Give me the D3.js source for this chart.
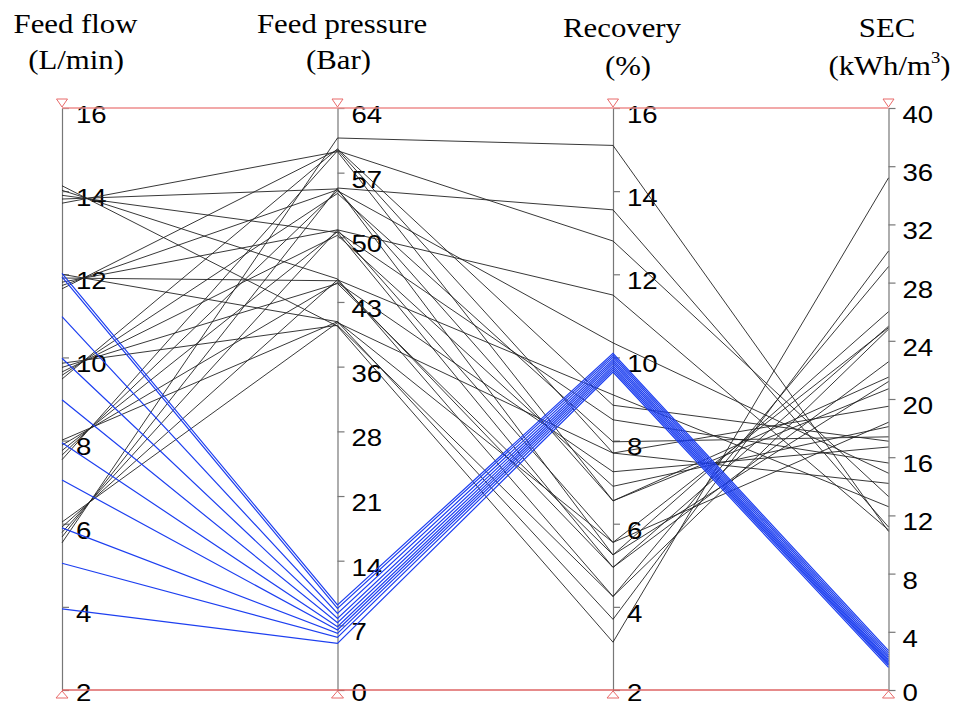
<!DOCTYPE html>
<html>
<head>
<meta charset="utf-8">
<script src="https://cdn.jsdelivr.net/npm/d3@7"></script>
<style>
  body { margin: 0; background: #fff; }
  svg { display: block; background: #fff; }
  .title { font-family: "Liberation Serif", "Times New Roman", serif; font-size: 28px; fill: #000; }
  .axis text { font-family: "Liberation Sans", Arial, sans-serif; font-size: 24px; fill: #000; }
  .axis path, .axis line { stroke: #777; stroke-width: 1.2; }
</style>
</head>
<body>
<svg id="chart" width="958" height="707"></svg>
<script>
// axes of the parallel coordinates plot
const dims = ["flow", "pressure", "recovery", "sec"];
const titleTop = ["Feed flow", "Feed pressure", "Recovery", "SEC"];
const titleUnit = ["(L/min)", "(Bar)", "(%)", "(kWh/m"];

const flowDomain = [2, 16];
const pressureDomain = [0, 64];
const recoveryDomain = [2, 16];
const secDomain = [0, 40];

const flowTicks = [2, 4, 6, 8, 10, 12, 14, 16];
const pressureTicks = [0, 7.11, 14.22, 21.33, 28.44, 35.56, 42.67, 49.78, 56.89, 64];
const pressureTickLabels = ["0", "7", "14", "21", "28", "36", "43", "50", "57", "64"];
const recoveryTicks = [2, 4, 6, 8, 10, 12, 14, 16];
const secTicks = [0, 4, 8, 12, 16, 20, 24, 28, 32, 36, 40];

// black runs (5 flows x 5 pressures)
const blackFlow = [5.54, 5.68, 5.79, 5.92, 6.04,
                   7.54, 7.65, 7.76, 7.89, 8.01,
                   9.48, 9.57, 9.65, 9.76, 9.86,
                   11.65, 11.73, 11.81, 11.91, 12.0,
                   13.71, 13.81, 13.90, 14.02, 14.13];
const blackPressure = [60.7, 55.2, 50.6, 45.1, 40.4,
                       59.3, 54.9, 50.4, 44.8, 40.5,
                       59.5, 54.6, 50.0, 44.7, 40.1,
                       59.4, 55.0, 50.6, 45.0, 40.5,
                       59.2, 55.1, 50.3, 45.2, 40.0];
const blackRecovery = [15.1, 13.55, 11.5, 9.1, 7.7,
                       12.8, 10.35, 8.5, 7.25, 5.55,
                       8.85, 7.97, 6.9, 5.25, 4.25,
                       7.7, 6.55, 5.55, 4.95, 3.7,
                       6.55, 5.25, 4.95, 4.25, 3.15];
const blackSEC = [10.9, 11.2, 11.0, 12.6, 14.2,
                  13.3, 14.9, 15.6, 16.7, 18.4,
                  17.1, 17.4, 18.1, 21.2, 24.8,
                  19.5, 20.7, 24.9, 22.56, 30.17,
                  21.5, 26.0, 25.0, 29.1, 35.2];

// blue runs (low pressure group)
const blueFlow = [12.02, 11.94, 10.98, 9.98, 8.98, 7.95, 7.05, 5.9, 5.05, 3.95];
const bluePressure = [9.35, 8.98, 8.43, 7.88, 7.40, 6.96, 6.60, 6.23, 5.79, 5.13];
const blueRecovery = [10.1, 10.05, 10.0, 9.95, 9.9, 9.85, 9.8, 9.75, 9.7, 9.65];
const blueSEC = [2.7, 2.55, 2.4, 2.25, 2.1, 2.0, 1.9, 1.8, 1.7, 1.55];

const svg = d3.select("#chart");
const yTop = 108, yBottom = 690;

const x = d3.scalePoint().domain(dims).range([62, 888.5]);
const y = {
    flow: d3.scaleLinear().domain(flowDomain).range([yBottom, yTop]),
    pressure: d3.scaleLinear().domain(pressureDomain).range([yBottom, yTop]),
    recovery: d3.scaleLinear().domain(recoveryDomain).range([yBottom, yTop]),
    sec: d3.scaleLinear().domain(secDomain).range([yBottom, yTop])
};
const tickSets = {flow: flowTicks, pressure: pressureTicks, recovery: recoveryTicks, sec: secTicks};

function makeRows(f, p, r, s) {
    return f.map((v, i) => ({flow: v, pressure: p[i], recovery: r[i], sec: s[i]}));
}
const blackRows = makeRows(blackFlow, blackPressure, blackRecovery, blackSEC);
const blueRows = makeRows(blueFlow, bluePressure, blueRecovery, blueSEC);

// axes
dims.forEach(d => {
    const ax = d3.axisRight(y[d])
        .tickValues(tickSets[d])
        .tickSize(7)
        .tickSizeOuter(0)
        .tickFormat((v, i) => d === "pressure" ? pressureTickLabels[i] : String(v));
    const g = svg.append("g")
        .attr("class", "axis")
        .attr("transform", "translate(" + x(d) + ",0)")
        .call(ax);
    // labels sit a little below their tick, the lowest one less so
    g.selectAll("text")
        .attr("x", 12.2)
        .attr("y", (v, i) => i === 0 ? 2.5 : 6)
        .attr("dy", "0.35em")
        .attr("transform", "scale(1.15,1)");
});

// lines
const line = d3.line();
function pts(r) { return dims.map(d => [x(d), y[d](r[d])]); }

svg.append("g").selectAll("path")
    .data(blackRows)
    .join("path")
    .attr("d", r => line(pts(r)))
    .attr("fill", "none")
    .attr("stroke", "#222")
    .attr("stroke-opacity", 0.9)
    .attr("stroke-width", 1);

svg.append("g").selectAll("path")
    .data(blueRows)
    .join("path")
    .attr("d", r => line(pts(r)))
    .attr("fill", "none")
    .attr("stroke", "#1d3ff0")
    .attr("stroke-width", 1.2);

// red limit lines and markers
const x0 = x(dims[0]), x1 = x(dims[dims.length - 1]);
svg.append("line").attr("x1", x0).attr("x2", x1).attr("y1", yTop).attr("y2", yTop)
    .attr("stroke", "#ee8c8c").attr("stroke-width", 1.5);
svg.append("line").attr("x1", x0).attr("x2", x1).attr("y1", yBottom).attr("y2", yBottom)
    .attr("stroke", "#de6464").attr("stroke-width", 1.5);

dims.forEach(d => {
    const cx = x(d);
    svg.append("path")
        .attr("d", "M" + (cx - 5.5) + "," + (yTop - 9) + "L" + (cx + 5.5) + "," + (yTop - 9) + "L" + cx + "," + (yTop - 1) + "Z")
        .attr("fill", "none").attr("stroke", "#e86a6a").attr("stroke-width", 1);
    svg.append("path")
        .attr("d", "M" + (cx - 6) + "," + (yBottom + 8) + "L" + (cx + 6) + "," + (yBottom + 8) + "L" + cx + "," + (yBottom + 1) + "Z")
        .attr("fill", "none").attr("stroke", "#e86a6a").attr("stroke-width", 1);
});

// titles
const titleLayout = [
    {dx: 13.5, y1: 33, ux: 14, y2: 69},
    {dx: 4.5, y1: 33, ux: 1, y2: 69},
    {dx: 9, y1: 37, ux: 15, y2: 75},
    {dx: -1.5, y1: 37, ux: 1, y2: 75}
];
dims.forEach((d, i) => {
    const L = titleLayout[i];
    svg.append("text").attr("class", "title")
        .attr("text-anchor", "middle")
        .attr("transform", "translate(" + (x(d) + L.dx) + "," + L.y1 + ") scale(1.1,1)")
        .text(titleTop[i]);
    const t = svg.append("text").attr("class", "title")
        .attr("text-anchor", "middle")
        .attr("transform", "translate(" + (x(d) + L.ux) + "," + L.y2 + ") scale(1.1,1)")
        .text(titleUnit[i]);
    if (d === "sec") {
        t.append("tspan").attr("font-size", 17).attr("dy", -12).text("3");
        t.append("tspan").attr("dy", 12).text(")");
    }
});
</script>
</body>
</html>
